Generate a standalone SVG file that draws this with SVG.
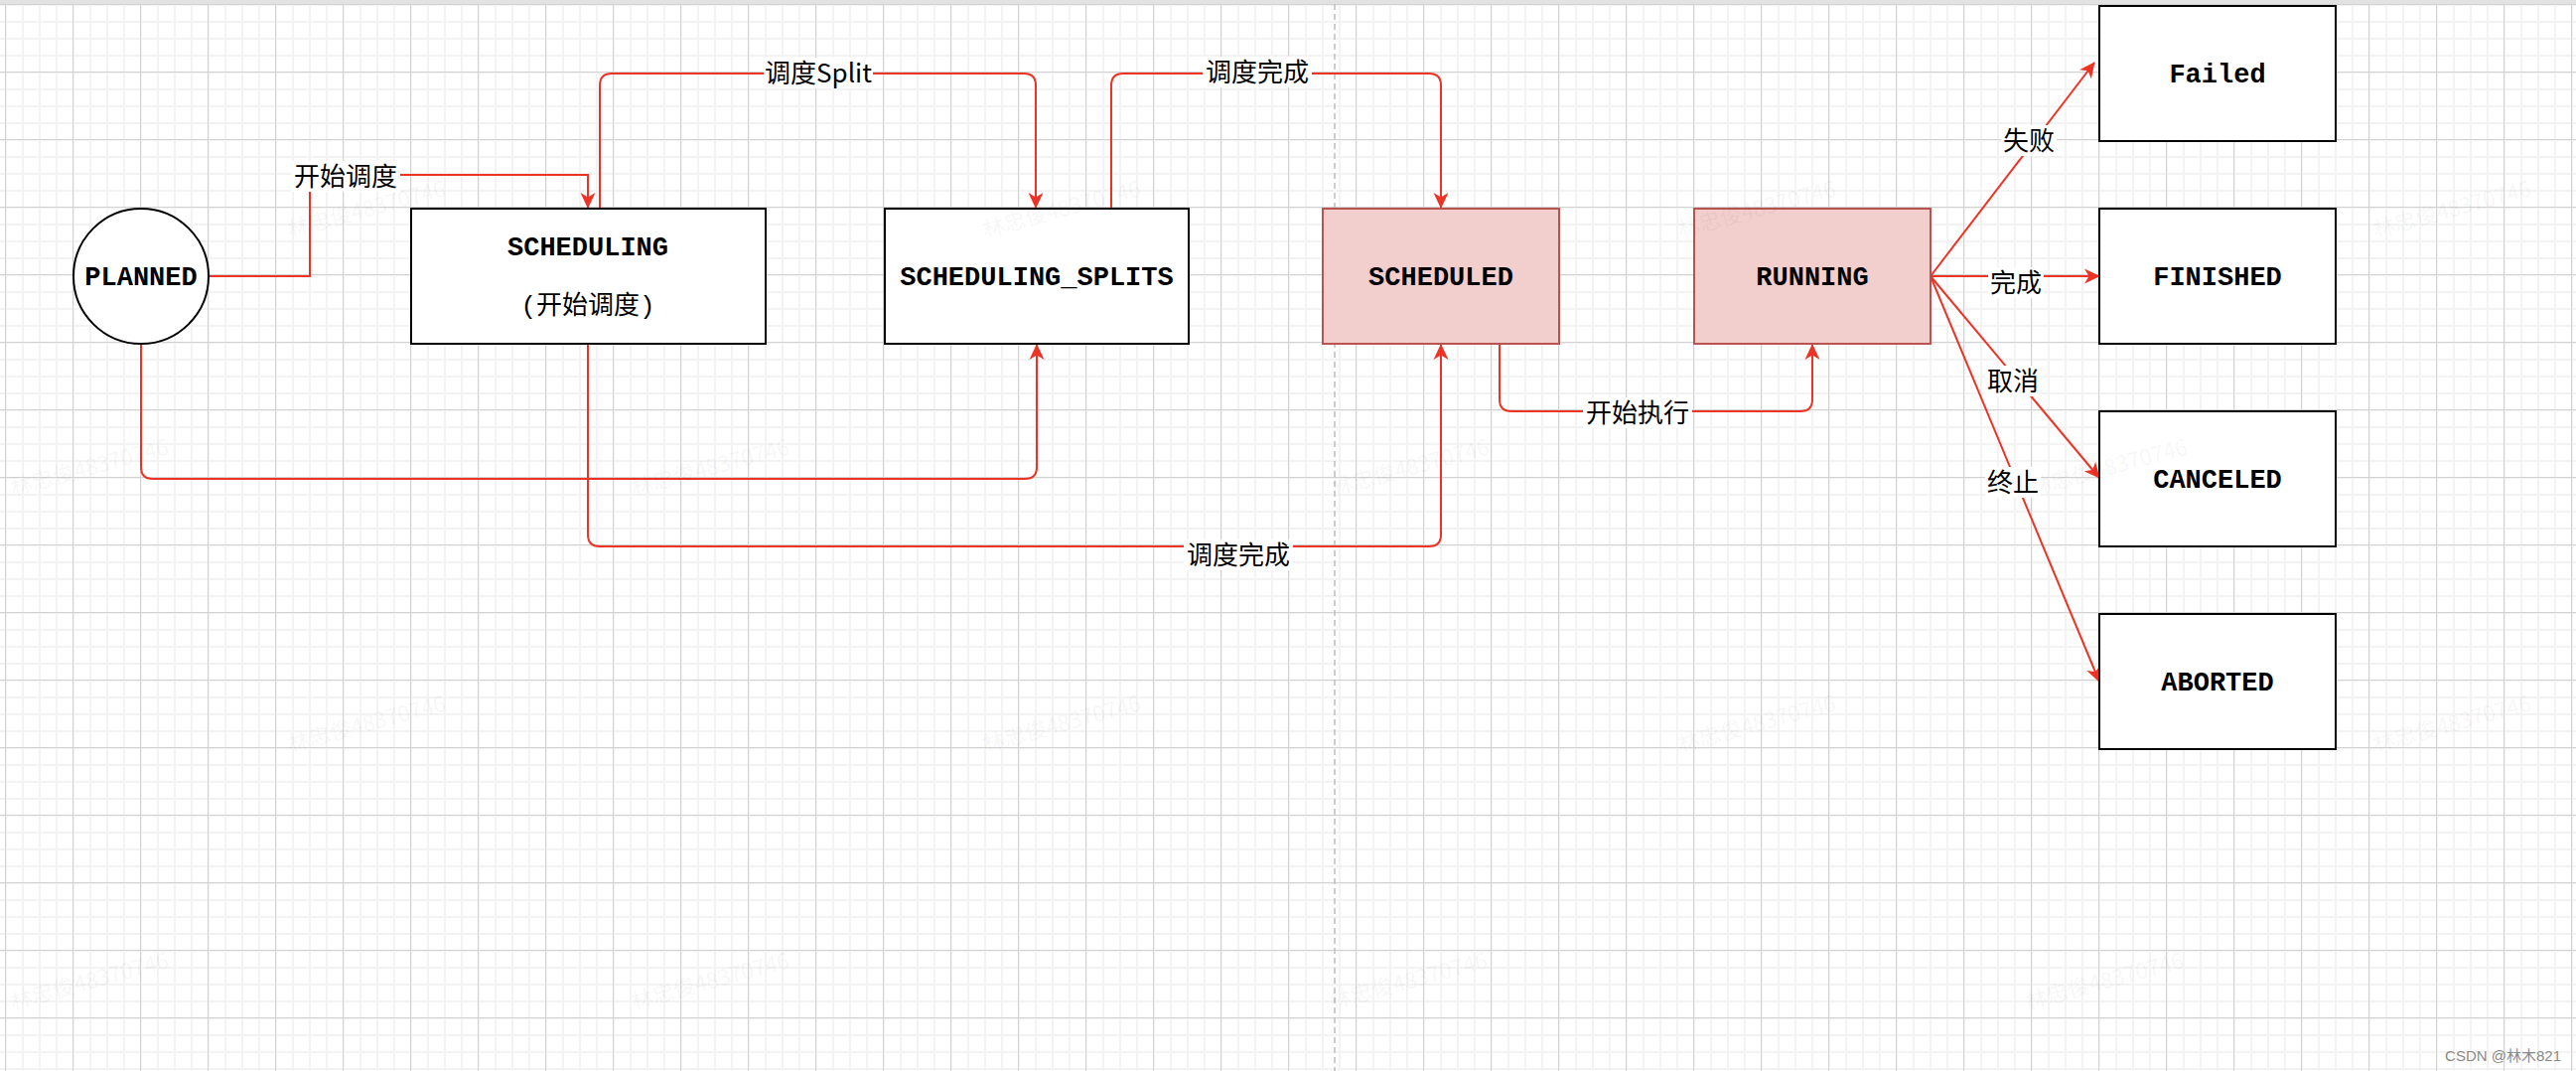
<svg xmlns="http://www.w3.org/2000/svg" width="2594" height="1078" viewBox="0 0 2594 1078">
  <style>
    .node { fill: #ffffff; stroke: #000000; stroke-width: 2; }
    .hot { fill: #f2cecc; stroke: #b85450; stroke-width: 2; }
    .ntxt { font-family: "Liberation Mono", "Noto Sans CJK SC", monospace; font-size: 27px; font-weight: bold; fill: #000; text-anchor: middle; }
    .ntxt2 { font-family: "Liberation Mono", "Noto Sans CJK SC", monospace; font-size: 26px; fill: #000; text-anchor: middle; }
    .edge { fill: none; stroke: #ec3325; stroke-width: 2; }
    .arr { marker-end: url(#arrow); }
    .lbg { fill: #ffffff; }
    .ltxt { font-family: "Noto Sans CJK SC", "Liberation Sans", sans-serif; font-size: 26px; fill: #000; text-anchor: middle; }
    .wm { font-family: "Noto Sans CJK SC", "Liberation Sans", sans-serif; font-size: 22px; fill: #000; fill-opacity: 0.055; text-anchor: middle; }
  </style>
  <defs>
    <pattern id="minorGrid" width="17" height="17" patternUnits="userSpaceOnUse" x="5" y="4">
      <rect x="0" y="0" width="17" height="2" fill="#f3f3f3"/>
      <rect x="0" y="0" width="2" height="17" fill="#f3f3f3"/>
    </pattern>
    <pattern id="majorGrid" width="68" height="68" patternUnits="userSpaceOnUse" x="5" y="4">
      <rect x="0" y="0" width="68" height="1" fill="#d2d2d2"/>
      <rect x="0" y="0" width="1" height="68" fill="#d2d2d2"/>
    </pattern>
    <marker id="arrow" viewBox="0 0 16 16" refX="15" refY="8" markerWidth="16" markerHeight="16" markerUnits="userSpaceOnUse" orient="auto">
      <path d="M0,0.5 L16,8 L0,15.5 L4.5,8 Z" fill="#ec3325"/>
    </marker>
  </defs>

  <!-- background & grid -->
  <rect x="0" y="0" width="2594" height="1078" fill="#ffffff"/>
  <rect x="0" y="0" width="2594" height="1078" fill="url(#minorGrid)"/>
  <rect x="0" y="0" width="2594" height="1078" fill="url(#majorGrid)"/>
  <rect x="0" y="0" width="2594" height="4" fill="#e2e2e2"/>
  <line x1="1344" y1="4" x2="1344" y2="1078" stroke="#bdbdbd" stroke-width="1.5" stroke-dasharray="6 4"/>

  <!-- connectors -->
  <g id="connectors">
    <path class="edge arr" d="M210,278 H312 V176 H592 V209"/>
    <path class="edge arr" d="M604,210 V86 Q604,74 616,74 H1031 Q1043,74 1043,86 V209"/>
    <path class="edge arr" d="M1119,210 V86 Q1119,74 1131,74 H1439 Q1451,74 1451,86 V209"/>
    <path class="edge arr" d="M142,346 V470 Q142,482 154,482 H1032 Q1044,482 1044,470 V347"/>
    <path class="edge arr" d="M592,346 V538 Q592,550 604,550 H1439 Q1451,550 1451,538 V347"/>
    <path class="edge arr" d="M1510,346 V402 Q1510,414 1522,414 H1813 Q1825,414 1825,402 V347"/>
    <path class="edge arr" d="M1944,278 L2109,63"/>
    <path class="edge arr" d="M1944,278 L2114,278"/>
    <path class="edge arr" d="M1944,278 L2114,481"/>
    <path class="edge arr" d="M1944,278 L2114,686"/>

    <g id="edge-labels">
      <rect class="lbg" x="293" y="162" width="110" height="31"/>
      <text class="ltxt" x="348" y="187">开始调度</text>
      <rect class="lbg" x="769" y="58" width="110" height="31"/>
      <text class="ltxt" x="824" y="83">调度Split</text>
      <rect class="lbg" x="1211" y="57" width="110" height="31"/>
      <text class="ltxt" x="1266" y="82">调度完成</text>
      <rect class="lbg" x="1192" y="543" width="110" height="31"/>
      <text class="ltxt" x="1247" y="568">调度完成</text>
      <rect class="lbg" x="1594" y="400" width="110" height="31"/>
      <text class="ltxt" x="1649" y="425">开始执行</text>
      <rect class="lbg" x="2015" y="126" width="56" height="31"/>
      <text class="ltxt" x="2043" y="151">失败</text>
      <rect class="lbg" x="2002" y="269" width="56" height="31"/>
      <text class="ltxt" x="2030" y="294">完成</text>
      <rect class="lbg" x="1999" y="368" width="56" height="31"/>
      <text class="ltxt" x="2027" y="393">取消</text>
      <rect class="lbg" x="1999" y="470" width="56" height="31"/>
      <text class="ltxt" x="2027" y="495">终止</text>
    </g>
  </g>

  <!-- nodes -->
  <g id="node-planned">
    <circle class="node" cx="142" cy="278" r="68"/>
    <text class="ntxt" x="142" y="287">PLANNED</text>
  </g>
  <g id="node-scheduling">
    <rect class="node" x="414" y="210" width="357" height="136"/>
    <text class="ntxt" x="592" y="257">SCHEDULING</text>
    <text class="ntxt2" x="592" y="316">(开始调度)</text>
  </g>
  <g id="node-scheduling-splits">
    <rect class="node" x="891" y="210" width="306" height="136"/>
    <text class="ntxt" x="1044" y="287">SCHEDULING_SPLITS</text>
  </g>
  <g id="node-scheduled">
    <rect class="hot" x="1332" y="210" width="238" height="136"/>
    <text class="ntxt" x="1451" y="287">SCHEDULED</text>
  </g>
  <g id="node-running">
    <rect class="hot" x="1706" y="210" width="238" height="136"/>
    <text class="ntxt" x="1825" y="287">RUNNING</text>
  </g>
  <g id="node-failed">
    <rect class="node" x="2114" y="6" width="238" height="136"/>
    <text class="ntxt" x="2233" y="83">Failed</text>
  </g>
  <g id="node-finished">
    <rect class="node" x="2114" y="210" width="238" height="136"/>
    <text class="ntxt" x="2233" y="287">FINISHED</text>
  </g>
  <g id="node-canceled">
    <rect class="node" x="2114" y="414" width="238" height="136"/>
    <text class="ntxt" x="2233" y="491">CANCELED</text>
  </g>
  <g id="node-aborted">
    <rect class="node" x="2114" y="618" width="238" height="136"/>
    <text class="ntxt" x="2233" y="695">ABORTED</text>
  </g>

  <!-- watermarks -->
  <g id="watermarks">
    <text class="wm" transform="translate(371,218) rotate(-15)">林忠俊48370746</text>
    <text class="wm" transform="translate(1071,218) rotate(-15)">林忠俊48370746</text>
    <text class="wm" transform="translate(1771,218) rotate(-15)">林忠俊48370746</text>
    <text class="wm" transform="translate(2471,218) rotate(-15)">林忠俊48370746</text>
    <text class="wm" transform="translate(92,478) rotate(-15)">林忠俊48370746</text>
    <text class="wm" transform="translate(717,478) rotate(-15)">林忠俊48370746</text>
    <text class="wm" transform="translate(1422,478) rotate(-15)">林忠俊48370746</text>
    <text class="wm" transform="translate(2125,478) rotate(-15)">林忠俊48370746</text>
    <text class="wm" transform="translate(371,736) rotate(-15)">林忠俊48370746</text>
    <text class="wm" transform="translate(1071,736) rotate(-15)">林忠俊48370746</text>
    <text class="wm" transform="translate(1771,736) rotate(-15)">林忠俊48370746</text>
    <text class="wm" transform="translate(2471,736) rotate(-15)">林忠俊48370746</text>
    <text class="wm" transform="translate(92,995) rotate(-15)">林忠俊48370746</text>
    <text class="wm" transform="translate(717,995) rotate(-15)">林忠俊48370746</text>
    <text class="wm" transform="translate(1420,995) rotate(-15)">林忠俊48370746</text>
    <text class="wm" transform="translate(2121,995) rotate(-15)">林忠俊48370746</text>
  </g>
  <text x="2579" y="1068" font-family="Liberation Sans, Noto Sans CJK SC, sans-serif" font-size="15" fill="#8a8a8a" text-anchor="end">CSDN @林木821</text>
</svg>
